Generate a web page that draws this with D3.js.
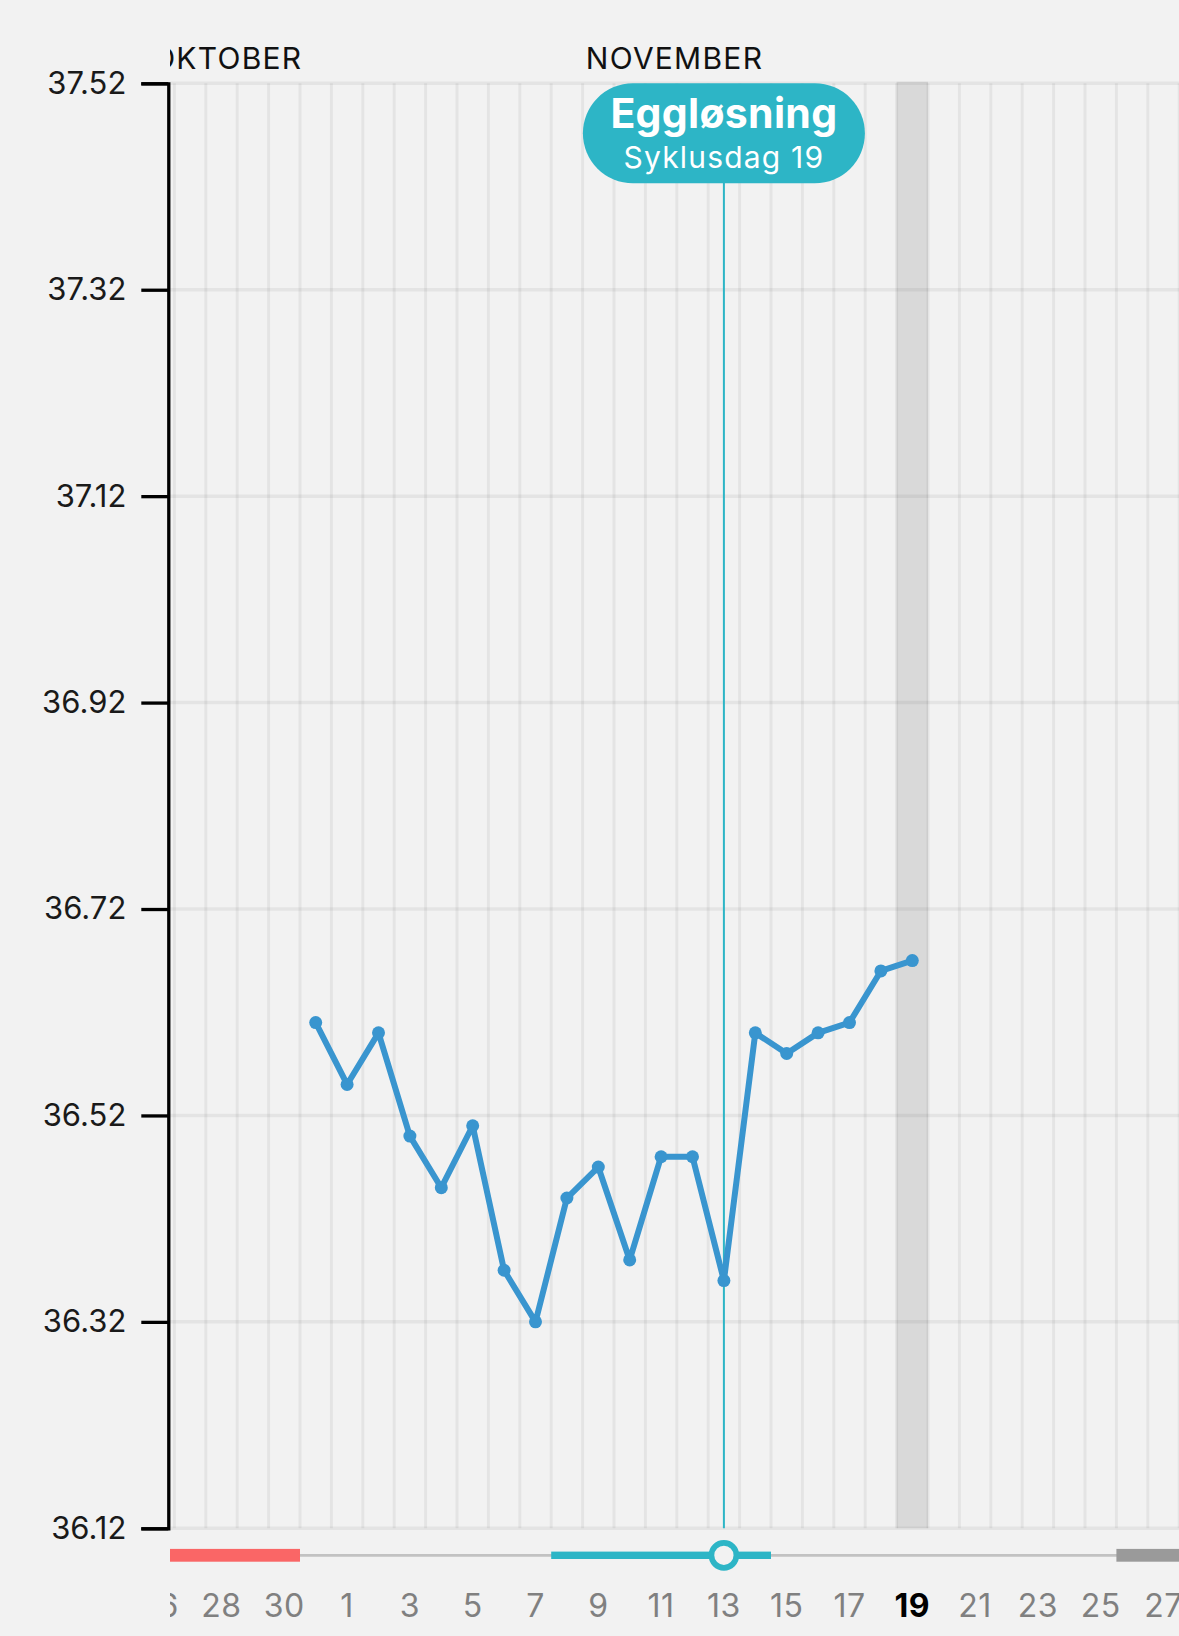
<!DOCTYPE html>
<html>
<head>
<meta charset="utf-8">
<script src="https://cdn.jsdelivr.net/npm/d3@7"></script>
<style>
  html, body { margin: 0; padding: 0; background: #f2f2f2; }
  svg { display: block; font-family: Inter, "Noto Sans", sans-serif; }
</style>
</head>
<body>
<svg id="chart" width="1179" height="1636"></svg>
<script>
// temperature readings, one per day
var dates = ["2023-10-31","2023-11-01","2023-11-02","2023-11-03","2023-11-04","2023-11-05","2023-11-06",
             "2023-11-07","2023-11-08","2023-11-09","2023-11-10","2023-11-11","2023-11-12","2023-11-13",
             "2023-11-14","2023-11-15","2023-11-16","2023-11-17","2023-11-18","2023-11-19"];
var temps = [36.61, 36.55, 36.60, 36.50, 36.45, 36.51, 36.37,
             36.32, 36.44, 36.47, 36.38, 36.48, 36.48, 36.36,
             36.60, 36.58, 36.60, 36.61, 36.66, 36.67];

var yTicks = [36.12, 36.32, 36.52, 36.72, 36.92, 37.12, 37.32, 37.52];
var xTickDates = ["2023-10-26","2023-10-28","2023-10-30","2023-11-01","2023-11-03","2023-11-05","2023-11-07",
                  "2023-11-09","2023-11-11","2023-11-13","2023-11-15","2023-11-17","2023-11-19","2023-11-21",
                  "2023-11-23","2023-11-25","2023-11-27"];
var monthNames = ["OKTOBER", "NOVEMBER"];
var monthDates = ["2023-10-26 07:00", "2023-11-09 02:30"];

// cycle phases along the bottom
var phaseNames = ["menstruasjon", "fruktbar", "neste menstruasjon"];
var phaseStart = ["2023-10-20", "2023-11-08", "2023-11-26"];
var phaseEnd   = ["2023-10-31", "2023-11-15", "2023-12-05"];
var phaseColor = ["#fa6666", "#2db5c6", "#9a9a9a"];

var today = "2023-11-19";
var ovulationDate = "2023-11-13";
var ovulationTitle = "Eggløsning";
var ovulationSub = "Syklusdag 19";

var parse = d3.utcParse("%Y-%m-%d");
var parseTime = d3.utcParse("%Y-%m-%d %H:%M");
var data = dates.map(function(d, i) { return {date: parse(d), temp: temps[i]}; });

var svg = d3.select("#chart");
var W = 1179;
var plotLeft = 168.3, plotTop = 83.3, plotBottom = 1528.3;

var x = d3.scaleUtc()
    .domain([parse("2023-11-01"), parse("2023-11-28")])
    .range([331.4, 331.4 + 27 * 31.4]);
var band = x(parse("2023-11-02")) - x(parse("2023-11-01"));
function cx(d) { return x(d) + band / 2; }

var y = d3.scaleLinear().domain([36.12, 37.52]).range([plotBottom, plotTop]);

svg.append("rect").attr("width", W).attr("height", 1636).attr("fill", "#f2f2f2");

var defs = svg.append("defs");
defs.append("clipPath").attr("id", "plotclip")
    .append("rect").attr("x", plotLeft + 1.7).attr("y", 0).attr("width", W - plotLeft).attr("height", 1636);

var plot = svg.append("g").attr("clip-path", "url(#plotclip)");

// today column
var td = parse(today);
plot.append("rect")
    .attr("x", x(td)).attr("y", plotTop - 1.5)
    .attr("width", band).attr("height", plotBottom - plotTop + 1.5)
    .attr("fill", "#d9d9d9");

// grid
var days = d3.utcDay.range(parse("2023-10-20"), parse("2023-11-30"));
plot.append("g").selectAll("line")
    .data(days).enter().append("line")
    .attr("x1", function(d) { return x(d); })
    .attr("x2", function(d) { return x(d); })
    .attr("y1", plotTop).attr("y2", plotBottom)
    .attr("stroke", "rgba(0,0,0,0.055)").attr("stroke-width", 3);
plot.append("g").selectAll("line")
    .data(yTicks).enter().append("line")
    .attr("x1", plotLeft).attr("x2", W)
    .attr("y1", function(d) { return y(d); })
    .attr("y2", function(d) { return y(d); })
    .attr("stroke", "rgba(0,0,0,0.055)").attr("stroke-width", 3.5);

// month labels
plot.append("g").selectAll("text")
    .data(monthNames).enter().append("text")
    .attr("x", function(d, i) { return x(parseTime(monthDates[i])); })
    .attr("y", 69)
    .attr("font-size", 30)
    .attr("letter-spacing", 1.25)
    .attr("fill", "#111")
    .text(function(d) { return d; });

// x labels
plot.append("g").selectAll("text")
    .data(xTickDates).enter().append("text")
    .attr("x", function(d) { return cx(parse(d)); })
    .attr("y", 1617)
    .attr("text-anchor", "middle")
    .attr("font-size", 32)
    .attr("letter-spacing", 0.5)
    .attr("font-weight", function(d) { return d == today ? 700 : 400; })
    .attr("fill", function(d) { return d == today ? "#000" : "#808080"; })
    .text(function(d) { return +d.slice(8); });

// phase bar
var py = 1555.3;
plot.append("line")
    .attr("x1", plotLeft).attr("x2", W).attr("y1", py).attr("y2", py)
    .attr("stroke", "#c2c2c2").attr("stroke-width", 2.7);
plot.append("g").selectAll("rect")
    .data(phaseNames).enter().append("rect")
    .attr("x", function(d, i) { return x(parse(phaseStart[i])); })
    .attr("width", function(d, i) { return x(parse(phaseEnd[i])) - x(parse(phaseStart[i])); })
    .attr("y", function(d, i) { return i == 1 ? py - 3.7 : py - 6.4; })
    .attr("height", function(d, i) { return i == 1 ? 7.4 : 12.8; })
    .attr("fill", function(d, i) { return phaseColor[i]; });

// ovulation line and marker
var ox = cx(parse(ovulationDate));
svg.append("line")
    .attr("x1", ox).attr("x2", ox).attr("y1", 180).attr("y2", plotBottom)
    .attr("stroke", "#2db5c6").attr("stroke-width", 2);
svg.append("circle")
    .attr("cx", ox).attr("cy", py).attr("r", 12.5)
    .attr("fill", "#f2f2f2").attr("stroke", "#2db5c6").attr("stroke-width", 5.7);

// y axis
var yAxis = d3.axisLeft(y).tickValues(yTicks).tickSize(27).tickSizeOuter(27).tickPadding(15)
    .tickFormat(d3.format(".2f"));
var ga = svg.append("g").attr("transform", "translate(" + plotLeft + ",0)").call(yAxis);
ga.select(".domain").attr("stroke", "#000").attr("stroke-width", 3.3);
ga.selectAll(".tick line").attr("stroke", "#000").attr("stroke-width", 3.3);
ga.selectAll(".tick text").attr("font-size", 31).attr("fill", "#1a1a1a")
    .attr("font-family", "Inter, 'Noto Sans', sans-serif");

// temperature line
var line = d3.line()
    .x(function(d) { return cx(d.date); })
    .y(function(d) { return y(d.temp); });
svg.append("path").datum(data)
    .attr("d", line)
    .attr("fill", "none")
    .attr("stroke", "#3995cf")
    .attr("stroke-width", 6)
    .attr("stroke-linejoin", "round");
svg.append("g").selectAll("circle")
    .data(data).enter().append("circle")
    .attr("cx", function(d) { return cx(d.date); })
    .attr("cy", function(d) { return y(d.temp); })
    .attr("r", 6.5)
    .attr("fill", "#3995cf");

// ovulation bubble
var bw = 282, bh = 100;
var bub = svg.append("g");
bub.append("rect")
    .attr("x", ox - bw / 2).attr("y", plotTop)
    .attr("width", bw).attr("height", bh)
    .attr("rx", bh / 2).attr("ry", bh / 2)
    .attr("fill", "#2db5c6");
bub.append("text")
    .attr("x", ox).attr("y", 128)
    .attr("text-anchor", "middle")
    .attr("font-size", 41).attr("font-weight", 700)
    .attr("letter-spacing", 0.3)
    .attr("fill", "#fff")
    .text(ovulationTitle);
bub.append("text")
    .attr("x", ox).attr("y", 168)
    .attr("text-anchor", "middle")
    .attr("font-size", 30)
    .attr("letter-spacing", 1.2)
    .attr("fill", "#fff")
    .text(ovulationSub);
</script>
</body>
</html>
